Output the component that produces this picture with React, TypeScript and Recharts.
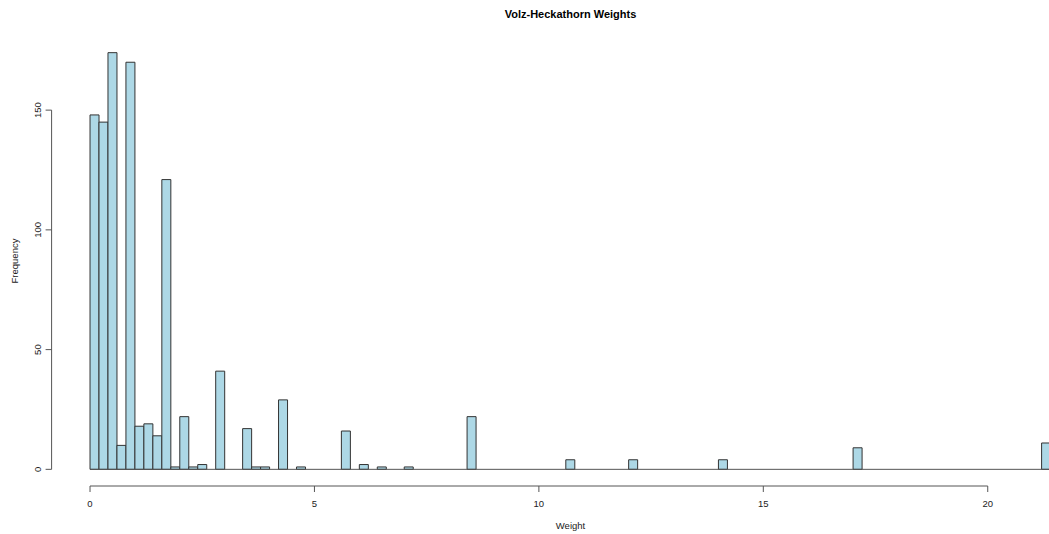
import { BarChart, Bar, XAxis, YAxis, ReferenceLine } from 'recharts'

// histogram bins (width 0.2), only the non-empty ones
const BIN_WIDTH = 0.2
const BIN_START = [
  0, 0.2, 0.4, 0.6, 0.8, 1.0, 1.2, 1.4, 1.6, 1.8, 2.0, 2.2, 2.4, 2.8, 3.4, 3.6, 3.8,
  4.2, 4.6, 5.6, 6.0, 6.4, 7.0, 8.4, 10.6, 12.0, 14.0, 17.0, 21.2,
]
const COUNTS = [
  148, 145, 174, 10, 170, 18, 19, 14, 121, 1, 22, 1, 2, 41, 17, 1, 1,
  29, 1, 16, 2, 1, 1, 22, 4, 4, 4, 9, 11,
]
const X_TICKS = [0, 5, 10, 15, 20]
const Y_TICKS = [0, 50, 100, 150]
const BREAKS_END = 21.4

// R-style 4% padding around the data range
const X_DOMAIN = [-0.856, 22.256]
const Y_DOMAIN = [-6.96, 180.96]

const data = BIN_START.map((s, i) => ({ mid: s + BIN_WIDTH / 2, count: COUNTS[i] }))

const FONT = '"Liberation Sans", Arial, sans-serif'
const TEXT = '#222'
const AXIS = '#555'

function XTick({ x, payload }: any) {
  return (
    <text x={x} y={503} textAnchor="middle" dominantBaseline="central" fontSize={9.5} fill={TEXT} fontFamily={FONT}>
      {payload.value}
    </text>
  )
}

function YTick({ y, payload }: any) {
  return (
    <text
      x={38}
      y={y}
      textAnchor="middle"
      dominantBaseline="central"
      fontSize={9.5}
      fill={TEXT}
      fontFamily={FONT}
      transform={`rotate(-90, 38, ${y})`}
    >
      {payload.value}
    </text>
  )
}

export default function App() {
  return (
    <div style={{ position: 'absolute', left: 0, top: 0, width: 1049, height: 534, overflow: 'hidden', background: '#fff' }}>
      <style>{'html, body { margin: 0; padding: 0; overflow: hidden; }'}</style>
      <div style={{ position: 'absolute', left: 0, width: 1141, top: 8, textAlign: 'center', fontFamily: FONT, fontWeight: 'bold', fontSize: 11, color: '#000' }}>
        Volz-Heckathorn Weights
      </div>
      <div style={{ position: 'absolute', left: 0, width: 1141, top: 520, textAlign: 'center', fontFamily: FONT, fontSize: 9.5, color: TEXT }}>
        Weight
      </div>
      <div style={{ position: 'absolute', left: 14, top: 261, transform: 'translate(-50%, -50%) rotate(-90deg)', fontFamily: FONT, fontSize: 9.5, color: TEXT, whiteSpace: 'nowrap' }}>
        Frequency
      </div>
      <BarChart
        width={1100}
        height={534}
        data={data}
        margin={{ top: 36, right: 11, left: 0, bottom: 0 }}
        barCategoryGap={0}
        barGap={0}
      >
        <XAxis
          dataKey="mid"
          type="number"
          domain={X_DOMAIN}
          ticks={X_TICKS}
          allowDataOverflow
          axisLine={false}
          tickLine={{ stroke: AXIS }}
          tickSize={6}
          height={48}
          tick={<XTick />}
          interval={0}
        />
        <YAxis
          type="number"
          domain={Y_DOMAIN}
          ticks={Y_TICKS}
          allowDataOverflow
          axisLine={false}
          tickLine={{ stroke: AXIS }}
          tickSize={6}
          width={51.6}
          tick={<YTick />}
          interval={0}
        />
        <ReferenceLine segment={[{ x: 0, y: Y_DOMAIN[0] }, { x: 20, y: Y_DOMAIN[0] }]} stroke={AXIS} ifOverflow="visible" />
        <ReferenceLine segment={[{ x: X_DOMAIN[0], y: 0 }, { x: X_DOMAIN[0], y: 150 }]} stroke={AXIS} ifOverflow="visible" />
        <ReferenceLine segment={[{ x: 0, y: 0 }, { x: BREAKS_END, y: 0 }]} stroke={AXIS} ifOverflow="visible" />
        <Bar dataKey="count" fill="#ADD8E6" stroke="#333" strokeWidth={1} isAnimationActive={false} />
      </BarChart>
    </div>
  )
}
